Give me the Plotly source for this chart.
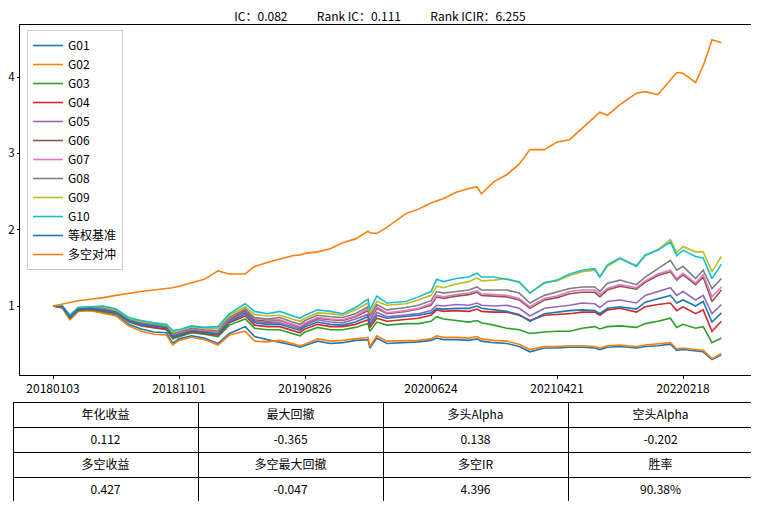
import plotly.graph_objects as go

# trading-day index of each sampled point
days = [0, 15, 27, 40, 60, 80, 100, 120, 140, 160, 180, 190, 200, 220, 240, 262, 280, 305, 320, 340,
        360, 380, 392, 400, 420, 440, 460, 480, 500, 503, 514, 530, 560, 580, 600, 609, 620, 640, 660, 673,
        680, 700, 720, 740, 757, 780, 800, 820, 840, 860, 868, 880, 900, 926, 940, 960, 980, 990, 1000, 1020,
        1032, 1046, 1061]

g01 = [1.00,0.98,0.83,0.94,0.95,0.91,0.88,0.76,0.70,0.66,0.65,0.51,0.57,0.61,0.58,0.51,0.64,0.73,0.60,0.56,
       0.53,0.49,0.46,0.48,0.54,0.51,0.52,0.55,0.56,0.45,0.58,0.51,0.52,0.53,0.55,0.58,0.56,0.56,0.55,0.57,
       0.54,0.52,0.51,0.47,0.40,0.45,0.45,0.46,0.46,0.45,0.43,0.46,0.47,0.45,0.47,0.48,0.50,0.42,0.43,0.41,
       0.40,0.30,0.36]
g02 = [1.00,0.97,0.82,0.93,0.94,0.90,0.87,0.74,0.67,0.63,0.62,0.49,0.55,0.59,0.56,0.49,0.62,0.67,0.54,0.53,
       0.55,0.51,0.48,0.50,0.57,0.54,0.55,0.57,0.59,0.47,0.61,0.54,0.55,0.55,0.57,0.61,0.59,0.59,0.58,0.60,
       0.57,0.55,0.54,0.50,0.43,0.47,0.47,0.48,0.48,0.47,0.45,0.48,0.49,0.47,0.49,0.50,0.52,0.44,0.45,0.43,
       0.42,0.31,0.38]
g03 = [1.00,0.98,0.84,0.95,0.95,0.93,0.90,0.79,0.74,0.71,0.69,0.57,0.60,0.65,0.63,0.60,0.75,0.83,0.71,0.69,
       0.69,0.64,0.61,0.66,0.72,0.69,0.69,0.72,0.77,0.67,0.79,0.75,0.77,0.77,0.80,0.86,0.83,0.81,0.79,0.81,
       0.78,0.75,0.71,0.69,0.64,0.66,0.67,0.67,0.71,0.73,0.70,0.73,0.74,0.72,0.77,0.80,0.84,0.72,0.76,0.71,
       0.73,0.52,0.58]
g04 = [1.00,0.98,0.85,0.95,0.96,0.94,0.91,0.80,0.75,0.72,0.70,0.59,0.61,0.66,0.64,0.62,0.78,0.87,0.75,0.73,
       0.73,0.68,0.65,0.70,0.76,0.73,0.73,0.76,0.82,0.72,0.84,0.80,0.82,0.84,0.88,0.95,0.93,0.94,0.93,0.96,
       0.93,0.92,0.92,0.88,0.81,0.88,0.89,0.90,0.92,0.92,0.88,0.95,0.97,0.92,0.99,1.02,1.04,0.94,0.99,0.90,
       0.95,0.67,0.80]
g05 = [1.00,0.99,0.86,0.96,0.97,0.95,0.92,0.81,0.76,0.74,0.72,0.61,0.63,0.68,0.66,0.64,0.81,0.92,0.80,0.78,
       0.78,0.73,0.70,0.75,0.82,0.79,0.78,0.83,0.89,0.78,0.92,0.86,0.88,0.90,0.94,1.01,1.00,1.02,1.01,1.04,
       1.01,1.00,1.01,0.97,0.87,0.97,0.99,1.01,1.04,1.03,0.98,1.06,1.08,1.04,1.14,1.19,1.24,1.14,1.19,1.08,
       1.14,0.90,1.02]
g06 = [1.00,0.99,0.86,0.96,0.97,0.96,0.93,0.82,0.77,0.75,0.73,0.62,0.64,0.69,0.67,0.66,0.82,0.94,0.82,0.80,
       0.81,0.75,0.72,0.77,0.84,0.82,0.81,0.86,0.94,0.82,0.97,0.90,0.93,0.96,1.01,1.12,1.10,1.13,1.15,1.18,
       1.14,1.13,1.12,1.08,0.97,1.08,1.11,1.16,1.18,1.18,1.12,1.21,1.26,1.22,1.31,1.40,1.45,1.34,1.41,1.28,
       1.38,1.06,1.21]
g07 = [1.00,0.99,0.87,0.97,0.98,0.97,0.93,0.82,0.78,0.75,0.73,0.63,0.65,0.70,0.68,0.67,0.84,0.96,0.84,0.82,
       0.82,0.76,0.73,0.78,0.85,0.83,0.82,0.87,0.96,0.84,0.99,0.91,0.94,0.97,1.03,1.14,1.12,1.15,1.17,1.20,
       1.16,1.15,1.14,1.10,0.99,1.10,1.13,1.19,1.21,1.21,1.15,1.23,1.28,1.24,1.33,1.42,1.47,1.36,1.43,1.30,
       1.41,1.12,1.25]
g08 = [1.00,0.99,0.87,0.97,0.98,0.98,0.94,0.83,0.78,0.76,0.74,0.64,0.66,0.71,0.69,0.68,0.85,0.96,0.85,0.83,
       0.85,0.79,0.76,0.81,0.88,0.86,0.85,0.90,0.99,0.87,1.02,0.95,0.98,1.01,1.07,1.19,1.17,1.19,1.21,1.25,
       1.21,1.21,1.21,1.17,1.04,1.14,1.19,1.23,1.25,1.25,1.19,1.30,1.34,1.28,1.38,1.49,1.60,1.47,1.52,1.36,
       1.47,1.23,1.36]
g09 = [1.00,1.00,0.88,0.98,0.99,0.99,0.95,0.84,0.80,0.77,0.75,0.66,0.68,0.73,0.71,0.71,0.88,0.99,0.89,0.87,
       0.88,0.83,0.80,0.84,0.91,0.90,0.88,0.95,1.04,0.91,1.06,1.01,1.03,1.08,1.14,1.26,1.24,1.29,1.32,1.37,
       1.33,1.34,1.36,1.31,1.17,1.31,1.33,1.40,1.45,1.47,1.38,1.52,1.62,1.53,1.66,1.74,1.87,1.70,1.78,1.71,
       1.71,1.45,1.65]
g10 = [1.00,1.00,0.88,0.98,0.99,1.00,0.96,0.85,0.81,0.78,0.76,0.68,0.69,0.74,0.72,0.73,0.90,1.03,0.93,0.90,
       0.93,0.88,0.84,0.88,0.95,0.93,0.90,0.98,1.09,0.95,1.13,1.04,1.06,1.12,1.19,1.35,1.32,1.36,1.38,1.43,
       1.38,1.38,1.35,1.32,1.17,1.30,1.34,1.42,1.47,1.49,1.38,1.54,1.63,1.52,1.67,1.73,1.84,1.66,1.73,1.65,
       1.63,1.36,1.55]
bench = [1.00,0.99,0.86,0.96,0.97,0.95,0.92,0.81,0.76,0.74,0.72,0.60,0.62,0.67,0.65,0.63,0.79,0.90,0.78,0.76,
         0.76,0.71,0.68,0.73,0.79,0.76,0.75,0.79,0.86,0.75,0.88,0.84,0.86,0.88,0.91,0.97,0.96,0.97,0.97,1.00,
         0.97,0.95,0.93,0.89,0.80,0.90,0.92,0.94,0.95,0.94,0.90,0.97,0.99,0.96,1.05,1.10,1.14,1.04,1.08,1.00,
         1.06,0.79,0.91]
long_short = [1.00,1.03,1.05,1.07,1.09,1.11,1.14,1.17,1.19,1.21,1.23,1.24,1.26,1.30,1.35,1.46,1.42,1.42,1.52,1.57,
              1.61,1.66,1.67,1.69,1.71,1.75,1.83,1.88,1.98,1.96,1.95,2.03,2.21,2.27,2.35,2.38,2.41,2.49,2.54,2.56,
              2.47,2.63,2.72,2.86,3.05,3.05,3.15,3.18,3.33,3.48,3.54,3.50,3.64,3.79,3.81,3.77,3.97,4.06,4.05,3.93,
              4.15,4.49,4.45]

series_names = ["G01", "G02", "G03", "G04", "G05", "G06", "G07", "G08", "G09", "G10", "等权基准", "多空对冲"]
series_values = [g01, g02, g03, g04, g05, g06, g07, g08, g09, g10, bench, long_short]
colors = ["#1f77b4", "#ff7f0e", "#2ca02c", "#d62728", "#9467bd", "#8c564b",
          "#e377c2", "#7f7f7f", "#bcbd22", "#17becf", "#1f77b4", "#ff7f0e"]

tick_idx = [0, 200, 400, 600, 800, 1000]
tick_labels = ["20180103", "20181101", "20190826", "20200624", "20210421", "20220218"]
y_ticks = [1, 2, 3, 4]

ic, rank_ic, rank_icir = "0.082", "0.111", "6.255"

table_head = ["年化收益", "最大回撤", "多头Alpha", "空头Alpha"]
table_row1 = ["0.112", "-0.365", "0.138", "-0.202"]
table_row2 = ["多空收益", "多空最大回撤", "多空IR", "胜率"]
table_row3 = ["0.427", "-0.047", "4.396", "90.38%"]

for v in series_values:
    assert len(v) == len(days), len(v)

FONT = "Noto Sans CJK SC, SimHei, sans-serif"
GAP = "\u3000\u3000\u00a0\u00a0"

fig = go.Figure()
for name, vals, col in zip(series_names, series_values, colors):
    fig.add_trace(go.Scatter(x=days, y=vals, mode="lines", name=name,
                             line=dict(color=col, width=1.6)))

fig.add_trace(go.Table(
    domain=dict(x=[0, 1], y=[0, 0.2096]),
    columnwidth=[1, 1, 1, 1],
    header=dict(values=table_head, align="center", height=25,
                fill_color="white", line=dict(color="black", width=1),
                font=dict(family=FONT, size=12, color="black")),
    cells=dict(values=[[table_row1[i], table_row2[i], table_row3[i]] for i in range(4)],
               align="center", height=25,
               fill_color="white", line=dict(color="black", width=1),
               font=dict(family=FONT, size=12, color="black")),
))

# the page body adds an 8px offset, so the figure is 8px smaller than the window
fig.update_layout(
    template="none",
    width=751, height=499,
    margin=dict(l=5, r=6, t=17, b=5),
    paper_bgcolor="white", plot_bgcolor="white",
    font=dict(family=FONT, size=12, color="black"),
    title=dict(text=f"IC：{ic}{GAP}Rank IC：{rank_ic}{GAP}Rank ICIR：{rank_icir}",
               x=0.4953, xref="container", xanchor="center",
               y=0.982, yref="container", yanchor="middle",
               font=dict(family=FONT, size=12, color="black")),
    showlegend=True,
    legend=dict(x=0.019, y=0.9895, xref="paper", yref="paper",
                xanchor="left", yanchor="top",
                bgcolor="rgba(255,255,255,0.85)", bordercolor="#cccccc", borderwidth=1,
                font=dict(family=FONT, size=12, color="black"),
                itemwidth=30, tracegroupgap=0),
    xaxis=dict(domain=[0.00946, 0.99865], range=[-52.4, 1109.5],
               tickmode="array", tickvals=tick_idx, ticktext=tick_labels,
               showline=True, mirror=True, linecolor="black", linewidth=1,
               ticks="outside", ticklen=3, tickcolor="black", showgrid=False,
               zeroline=False, automargin=False,
               tickfont=dict(family=FONT, size=12, color="black")),
    yaxis=dict(domain=[0.2662, 1.0], range=[0.096, 4.683],
               tickmode="array", tickvals=y_ticks, ticktext=[str(t) for t in y_ticks],
               showline=True, mirror=True, linecolor="black", linewidth=1,
               ticks="outside", ticklen=2, tickcolor="black", showgrid=False,
               zeroline=False, automargin=False,
               tickfont=dict(family=FONT, size=11.5, color="black")),
)

fig.write_html("out.html")
